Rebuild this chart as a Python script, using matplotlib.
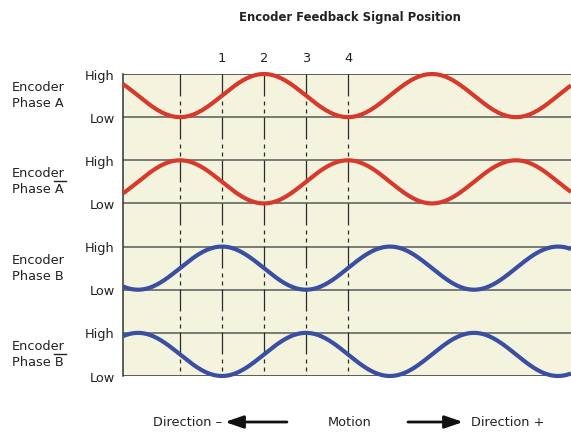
import numpy as np
import matplotlib
matplotlib.use("Agg")
import matplotlib.pyplot as plt
from matplotlib.lines import Line2D

plt.rcParams['font.family'] = ['DejaVu Sans']
plt.rcParams['lines.scale_dashes'] = False

# chart data
title = "Encoder Feedback Signal Position"
channel_names = ["Phase A", "Phase A", "Phase B", "Phase B"]
channel_inverted = [False, True, False, True]
channel_colors = ["#d8392d", "#d8392d", "#3a4fa2", "#3a4fa2"]
peak_positions = [2, 0, 1, 3]        # where each signal is High (quarter-cycle units)
period = 4                            # one full cycle = 4 quarter steps
level_labels = ["High", "Low"]
marker_positions = [0, 1, 2, 3, 4]
position_numbers = ["1", "2", "3", "4"]
number_positions = [1, 2, 3, 4]
x_range = (-1.357, 9.31)

W, H = 571, 433
fig = plt.figure(figsize=(W / 100, H / 100), dpi=100)
ax = fig.add_axes([123 / W, 1 - 376 / H, 1 - 123 / W, (376 - 74) / H])
ax.set_facecolor("#f4f4de")
ax.set_xlim(*x_range)
n = len(channel_names)
ax.set_ylim(0, 2 * n - 1)
for s in ["top", "right", "bottom"]:
    ax.spines[s].set_visible(False)
ax.spines["left"].set_color("#333333")
ax.spines["left"].set_linewidth(1.1)
ax.set_xticks([])
ax.set_yticks([])

# horizontal High/Low lines
for k in range(2 * n):
    col = "#333333" if k in (0, 2 * n - 1) else "#5a5a5a"
    ax.axhline(k, color=col, lw=1.1, zorder=2)

# vertical position markers: solid below each level line, dashed after
px = 0.72
dash = (0, (22 * px, 5 * px, 4 * px, 4 * px, 4 * px, 4 * px))
for xp in marker_positions:
    ax.plot([xp, xp], [2 * n - 1, 0], color="#2a2a2a", lw=0.9,
            linestyle=dash, zorder=2)

fig.canvas.draw()
renderer = fig.canvas.get_renderer()

# signals
xs = np.linspace(x_range[0], x_range[1], 800)
for i in range(n):
    high = 2 * n - 1 - 2 * i
    low = high - 1
    wave = np.cos(2 * np.pi * (xs - peak_positions[i]) / period)
    ys = low + 0.5 + 0.5 * wave
    ax.plot(xs, ys, color=channel_colors[i], lw=3.0, zorder=4,
            clip_on=False, solid_capstyle="butt")

    for lab, yv in zip(level_labels, [high, low]):
        ax.annotate(lab, xy=(0, yv), xycoords=("axes fraction", "data"),
                    xytext=(-6, -1.5), textcoords="offset points",
                    ha="right", va="center", fontsize=9.3, color="#222222")

    mid = low + 0.5
    ax.annotate("Encoder", xy=(12 / W, mid), xycoords=("figure fraction", "data"),
                xytext=(0, 5.8), textcoords="offset points",
                ha="left", va="center", fontsize=9.3, color="#222222")
    t2 = ax.annotate(channel_names[i], xy=(12 / W, mid), xycoords=("figure fraction", "data"),
                     xytext=(0, -5.8), textcoords="offset points",
                     ha="left", va="center", fontsize=9.3, color="#222222")
    if channel_inverted[i]:
        # bar over the last letter of the phase name
        bb = t2.get_window_extent(renderer)
        tmp = fig.text(0, 0, channel_names[i][:-1], fontsize=9.3)
        w_pre = tmp.get_window_extent(renderer).width
        tmp.remove()
        x0 = bb.x0 + w_pre - 1
        x1 = bb.x1 + 2
        y_pix = ax.transData.transform((0, mid))[1] + 0.5
        fig.add_artist(Line2D([x0 / W, x1 / W], [y_pix / H, y_pix / H],
                              color="#222222", lw=1.0))

# position numbers above the chart
for lab, xp in zip(position_numbers, number_positions):
    ax.annotate(lab, xy=(xp, 2 * n - 1), xycoords="data",
                xytext=(0, 11), textcoords="offset points",
                ha="center", va="center", fontsize=9.3, color="#222222")

fig.text(350 / W, 1 - 17 / H, title, ha="center", va="center",
         fontsize=8.4, fontweight="bold", color="#222222")

# motion legend along the bottom
yb = 1 - 422 / H
fig.text(153 / W, yb, "Direction \u2013", ha="left", va="center", fontsize=9.3, color="#222222")
fig.text(350 / W, yb, "Motion", ha="center", va="center", fontsize=9.3, color="#222222")
fig.text(471 / W, yb, "Direction +", ha="left", va="center", fontsize=9.3, color="#222222")
arrow = dict(arrowstyle="-|>,head_length=1.1,head_width=0.38", color="#111111",
             lw=2.0, mutation_scale=10, shrinkA=0, shrinkB=0)
ax.annotate("", xy=(225 / W, yb), xytext=(287 / W, yb), xycoords="figure fraction",
            arrowprops=arrow)
ax.annotate("", xy=(463 / W, yb), xytext=(408 / W, yb), xycoords="figure fraction",
            arrowprops=arrow)

fig.savefig("out.png", dpi=100)
